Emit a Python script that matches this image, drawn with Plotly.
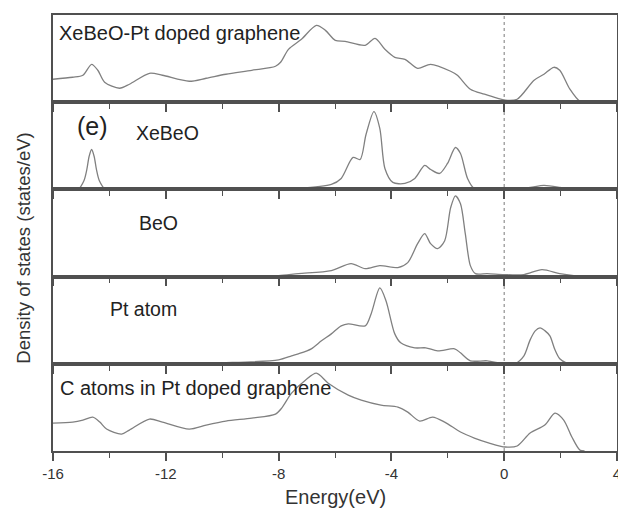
import plotly.graph_objects as go
from plotly.subplots import make_subplots

# ---------------- data (arbitrary DOS units) ----------------
panel_names = ["XeBeO-Pt doped graphene", "XeBeO", "BeO", "Pt atom", "C atoms in Pt doped graphene"]

e_total = [-16.0, -15.30, -14.94, -14.63, -14.41, -14.17, -13.64, -13.29, -12.58, -12.12, -11.17,
           -10.57, -9.87, -8.95, -8.11, -7.93, -7.65, -7.19, -6.66, -6.34, -5.99, -5.64, -4.93,
           -4.58, -4.23, -3.88, -3.52, -3.07, -2.61, -1.90, -1.66, -1.20, -0.70, -0.25, 0.04,
           0.46, 1.06, 1.41, 1.76, 1.97, 2.33, 2.68, 2.85]
dos_total = [23, 25, 27, 38, 32, 20, 14, 18, 29, 27, 21, 24, 28, 32, 36, 40, 53, 63, 77, 72, 62,
             61, 57, 64, 53, 45, 43, 34, 38, 31, 27, 13, 8, 4, 2, 3, 22, 28, 35, 32, 13, 1, 0]

e_xebeo = [-16.0, -15.3, -15.1, -14.9, -14.8, -14.72, -14.63, -14.54, -14.46, -14.36, -14.15,
           -13.9, -9.0, -7.3, -6.13, -5.78, -5.36, -5.11, -4.90, -4.62, -4.41, -4.23, -3.95,
           -3.52, -3.17, -2.82, -2.61, -2.29, -2.01, -1.73, -1.55, -1.30, -1.06, -0.49, 0.0,
           0.5, 0.92, 1.41, 1.97, 2.33, 2.6]
dos_xebeo = [0, 0, 0.5, 9, 20, 33, 40, 33, 20, 9, 0.5, 0, 0, 1, 5, 11, 32, 30, 55, 78, 61, 21, 7,
             6, 11, 24, 20, 16, 26, 42, 36, 11, 1, 1, 0, 1, 2, 4, 2, 0, 0]

e_beo = [-16.0, -15.4, -14.8, -14.2, -9.0, -8.0, -7.3, -6.13, -5.43, -4.93, -4.41, -3.77, -3.42,
         -3.07, -2.82, -2.61, -2.36, -2.11, -1.90, -1.73, -1.55, -1.38, -1.20, -1.02, -0.6, 0.0,
         0.7, 1.34, 1.97, 2.47, 3.0]
dos_beo = [0, 0.5, 0.7, 0, 0, 1, 3, 6, 13, 8, 11, 9, 14, 33, 43, 33, 28, 36, 69, 81, 73, 43, 11,
           3, 3, 2, 2, 7, 3, 1, 0]

e_pt = [-16.0, -11.5, -10.0, -8.00, -7.54, -7.30, -6.84, -6.48, -6.13, -5.78, -5.53, -4.93, -4.72,
        -4.41, -4.19, -3.88, -3.67, -3.17, -2.78, -2.36, -1.76, -1.55, -1.20, -0.60, 0.0, 0.4,
        0.7, 0.92, 1.1, 1.27, 1.45, 1.62, 1.8, 1.97, 2.2, 2.5]
dos_pt = [0, 0, 1, 4, 8, 10, 15, 23, 30, 38, 40, 38, 50, 76, 63, 30, 21, 16, 16, 13, 15, 11, 3, 3,
          0, 0.5, 8, 24, 33, 36, 33, 28, 14, 5, 1, 0]

e_c = [-16.0, -15.30, -14.94, -14.59, -14.34, -14.10, -13.57, -13.29, -12.58, -12.12, -11.17,
       -10.57, -9.87, -8.95, -8.11, -7.89, -7.54, -7.05, -6.66, -6.24, -5.53, -5.07, -4.37, -3.77,
       -3.42, -3.00, -2.54, -2.11, -1.55, -1.06, -0.53, 0.04, 0.46, 0.92, 1.44, 1.80, 2.11, 2.40,
       2.68, 2.85]
dos_c = [28, 29, 31, 34, 29, 22, 17, 21, 32, 29, 22, 26, 30, 33, 37, 43, 58, 71, 78, 68, 56, 51,
         46, 44, 39, 30, 34, 29, 19, 13, 8, 4, 5, 18, 26, 38, 31, 14, 1, 0]

energies = [e_total, e_xebeo, e_beo, e_pt, e_c]
dos_values = [dos_total, dos_xebeo, dos_beo, dos_pt, dos_c]

x_range = [-16, 4]
x_tickvals = [-16, -12, -8, -4, 0, 4]
x_ticktext = ["-16", "-12", "-8", "-4", "0", "4"]

# ---------------- figure ----------------
FONT = "Liberation Sans, Arial, sans-serif"
LINE_COL = "#808080"
AX_COL = "#505050"

fig = make_subplots(rows=5, cols=1, shared_xaxes=True, vertical_spacing=0)

for i, (e, v) in enumerate(zip(energies, dos_values)):
    fig.add_trace(go.Scatter(x=e, y=v, mode="lines",
                             line=dict(color=LINE_COL, width=1.3, shape="spline", smoothing=0.8),
                             showlegend=False, hoverinfo="skip"),
                  row=i + 1, col=1)

for i in range(5):
    last = (i == 4)
    fig.update_xaxes(range=x_range, showline=True, linecolor=AX_COL, linewidth=1.5, mirror=True,
                     ticks="outside", tickvals=x_tickvals, ticktext=x_ticktext,
                     ticklen=8, tickwidth=1.5, tickcolor=AX_COL,
                     minor=dict(ticks="outside", dtick=2, tick0=-16, ticklen=5, tickwidth=1.2,
                                tickcolor=AX_COL),
                     showticklabels=last, showgrid=False, zeroline=False,
                     tickfont=dict(family=FONT, size=15, color="#333333"),
                     row=i + 1, col=1)
    fig.update_yaxes(range=[0, 87.4], showline=True, linecolor=AX_COL, linewidth=1.5, mirror=True,
                     ticks="", showticklabels=False, showgrid=False, zeroline=False,
                     row=i + 1, col=1)

# Fermi level
fig.add_shape(type="line", xref="x", yref="paper", x0=0, x1=0, y0=0, y1=1,
              line=dict(color="#909090", width=1.2, dash="dot"), layer="below")

# page has an 8px body margin: figure drawn at (8, 8)
OFF = 8
PAGE_W, PAGE_H = 626, 513
PL, PT, PR, PB = 53, 14, 621, 451   # plot box in page pixels
W, H = PAGE_W - OFF, PAGE_H - OFF
pw, ph = PR - PL, PB - PT


def px(xp):
    return (xp - PL) / pw


def py(yp):
    return (PB - yp) / ph


labels = [
    ("XeBeO-Pt doped graphene", 57, 32, 20),
    ("(e)", 75, 125, 25),
    ("XeBeO", 135, 132, 19.5),
    ("BeO", 138, 222, 19.5),
    ("Pt atom", 108, 309, 19.5),
    ("C atoms in Pt doped graphene", 58, 388, 20),
]
for text, xp, yp, size in labels:
    fig.add_annotation(text=text, xref="paper", yref="paper", x=px(xp), y=py(yp),
                       xanchor="left", yanchor="middle", showarrow=False,
                       font=dict(family=FONT, size=size, color="#222222"))

fig.add_annotation(text="Density of states (states/eV)", xref="paper", yref="paper",
                   x=px(23), y=py(248), textangle=-90, showarrow=False,
                   xanchor="center", yanchor="middle",
                   font=dict(family=FONT, size=18.5, color="#333333"))
fig.add_annotation(text="Energy(eV)", xref="paper", yref="paper",
                   x=px(337), y=py(497), showarrow=False,
                   xanchor="center", yanchor="middle",
                   font=dict(family=FONT, size=20, color="#333333"))

fig.update_layout(width=W, height=H,
                  margin=dict(l=PL - OFF, r=PAGE_W - PR, t=PT - OFF, b=PAGE_H - PB),
                  paper_bgcolor="white", plot_bgcolor="white")

fig.write_html("out.html")
